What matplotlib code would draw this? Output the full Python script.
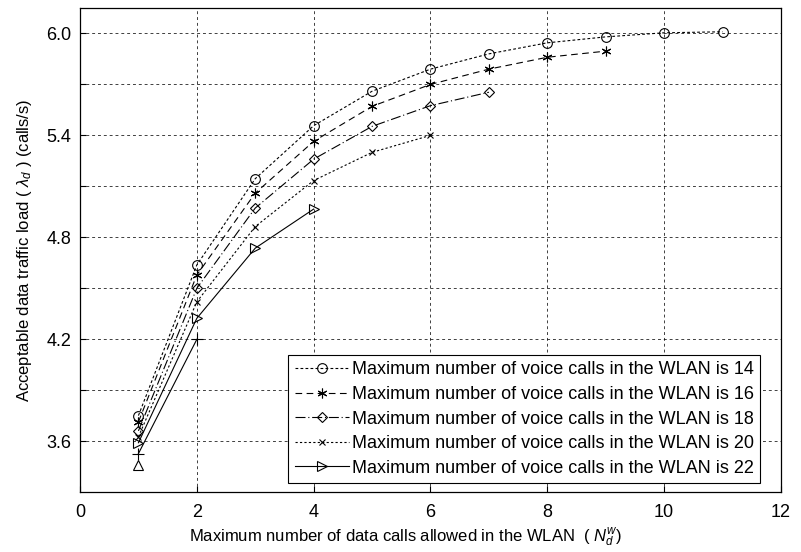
import matplotlib
matplotlib.use('Agg')
from matplotlib import pyplot as plt

plt.rcParams['font.family'] = ['Liberation Sans', 'DejaVu Sans']
plt.rcParams['mathtext.fontset'] = 'custom'
plt.rcParams['mathtext.it'] = 'Liberation Sans:italic'
plt.rcParams['mathtext.rm'] = 'Liberation Sans'

# acceptable data load vs max data calls, one curve per voice-call limit
x14 = [1, 2, 3, 4, 5, 6, 7, 8, 9, 10, 11]
y14 = [3.75, 4.637, 5.145, 5.457, 5.66, 5.79, 5.88, 5.945, 5.98, 6.004, 6.01]
x16 = [1, 2, 3, 4, 5, 6, 7, 8, 9]
y16 = [3.713, 4.578, 5.06, 5.365, 5.571, 5.70, 5.79, 5.86, 5.896]
x18 = [1, 2, 3, 4, 5, 6, 7]
y18 = [3.66, 4.50, 4.972, 5.26, 5.453, 5.575, 5.654]
x20 = [1, 2, 3, 4, 5, 6]
y20 = [3.625, 4.42, 4.863, 5.134, 5.30, 5.40]
x22 = [1, 2, 3, 4]
y22 = [3.59, 4.323, 4.736, 4.966]
# two more limits, no legend entry
x24 = [1, 2]
y24 = [3.526, 4.199]
x26 = [1]
y26 = [3.457]

labels = ['Maximum number of voice calls in the WLAN is 14',
          'Maximum number of voice calls in the WLAN is 16',
          'Maximum number of voice calls in the WLAN is 18',
          'Maximum number of voice calls in the WLAN is 20',
          'Maximum number of voice calls in the WLAN is 22']

fs = 13

fig = plt.figure(figsize=(8.01, 5.52), dpi=100)
ax = fig.add_axes([0.0999, 0.1087, 0.8751, 0.8768])

mk = dict(color='k', lw=0.8, mfc='none', mec='k', mew=0.8)
ax.plot(x14, y14, marker='o', ms=7, dashes=(2.5, 2), label=labels[0], **mk)
ax.plot(x16, y16, marker=(6, 2, 0), ms=7, dashes=(6, 4), label=labels[1], **mk)
ax.plot(x18, y18, marker='D', ms=5.5, dashes=(9, 2.5, 1, 2.5), label=labels[2], **mk)
ax.plot(x20, y20, marker='x', ms=4, dashes=(2, 2), label=labels[3], **mk)
ax.plot(x22, y22, marker='>', ms=7.5, ls='-', label=labels[4], **mk)
ax.plot(x24, y24, marker='+', ms=8, ls='-', **mk)
ax.plot(x26, y26, marker='^', ms=7.5, ls='none', **mk)

ax.set_xlim(0, 12)
ax.set_ylim(3.3, 6.15)
ax.set_xticks(range(0, 13, 2))
yt = [3.6, 3.9, 4.2, 4.5, 4.8, 5.1, 5.4, 5.7, 6.0]
ax.set_yticks(yt)
ax.set_yticklabels(['%.1f' % v if i % 2 == 0 else '' for i, v in enumerate(yt)])
ax.tick_params(direction='in', length=4, labelsize=fs, width=0.8)
ax.tick_params(axis='x', pad=9)
ax.tick_params(axis='y', pad=6)
ax.grid(True, color='k', ls=(0, (3, 3)), lw=0.7, alpha=0.75)
for s in ax.spines.values():
    s.set_linewidth(0.9)

ax.set_xlabel(r'Maximum number of data calls allowed in the WLAN  ( $N_d^{w}$)', fontsize=12)
ax.xaxis.set_label_coords(0.465, -0.072)
ax.set_ylabel(r'Acceptable data traffic load ( $\lambda_d$ ) (calls/s)', fontsize=12, labelpad=9)

leg = ax.legend(loc='lower right', bbox_to_anchor=(0.970, 0.0186), fontsize=fs,
                fancybox=False, framealpha=1, edgecolor='k', handlelength=3.0,
                borderaxespad=0, labelspacing=0.42, borderpad=0.35, handletextpad=0.15)
leg.get_frame().set_linewidth(0.8)

fig.savefig('out.png', dpi=100)
